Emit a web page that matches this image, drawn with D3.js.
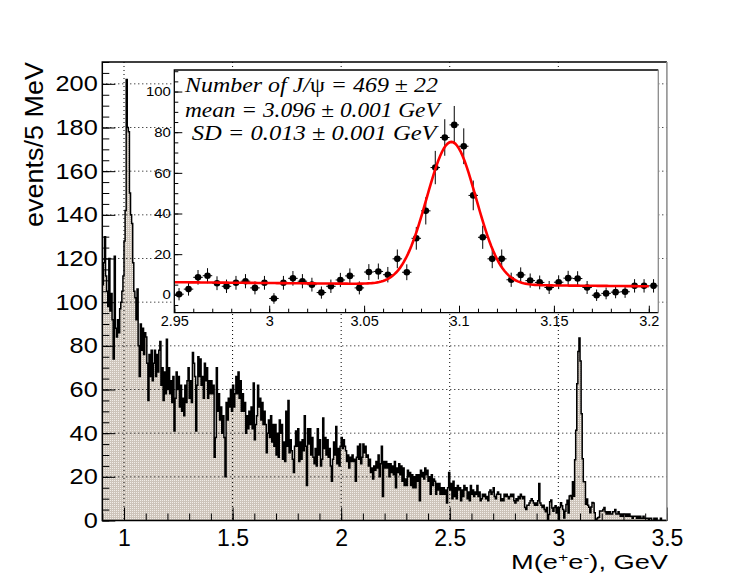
<!DOCTYPE html>
<html>
<head>
<meta charset="utf-8">
<style>
body { margin: 0; background: #fff; }
svg text { font-family: "Liberation Sans", Arial, Helvetica, sans-serif; fill: #000; }
.grid line { stroke: #000; stroke-width: 1; stroke-dasharray: 1,3; }
.fittext { font-family: "Liberation Serif", "Times New Roman", serif; font-style: italic; }
</style>
<script src="https://d3js.org/d3.v7.min.js"></script>
</head>
<body>
<svg id="chart" width="747" height="580"></svg>
<script>
// ---- data ----
var binWidth = 0.005;          // GeV, 5 MeV bins
var massRange = [0.9, 3.5];
var insetRange = [2.95, 3.205];

// main histogram, bins 0.900 .. 2.950
var countsLow = [
  108, 118, 130, 112, 105, 98, 120, 96, 104, 92,
  74, 121, 88, 84, 92, 86, 97, 100, 105, 112,
  128, 142, 202, 180, 178, 150, 140, 136, 118, 105,
  102, 92, 106, 80, 66, 90, 78, 88, 76, 86,
  84, 72, 55, 76, 66, 78, 64, 72, 78, 66,
  76, 68, 78, 82, 62, 70, 55, 68, 58, 83,
  60, 70, 58, 64, 54, 66, 41, 56, 68, 60,
  66, 52, 62, 50, 56, 48, 62, 54, 64, 70,
  56, 64, 54, 77, 72, 66, 41, 62, 75, 66,
  74, 62, 66, 56, 72, 64, 70, 56, 64, 58,
  64, 58, 62, 29, 38, 70, 50, 58, 46, 52,
  40, 48, 38, 20, 54, 46, 56, 52, 60, 50,
  62, 52, 58, 66, 58, 68, 56, 64, 50, 58,
  50, 54, 40, 48, 42, 50, 44, 52, 42, 63,
  37, 44, 48, 62, 52, 56, 46, 54, 44, 50,
  44, 31, 40, 46, 38, 48, 36, 44, 34, 44,
  30, 40, 29, 46, 40, 44, 28, 36, 27, 50,
  34, 55, 31, 37, 32, 28, 22, 34, 41, 34,
  42, 27, 36, 28, 37, 32, 48, 34, 16, 42,
  35, 42, 30, 38, 29, 26, 33, 25, 42, 30,
  37, 25, 28, 47, 33, 38, 30, 37, 29, 33,
  25, 18, 28, 36, 30, 43, 26, 33, 25, 34,
  38, 33, 37, 34, 32, 27, 30, 24, 29, 27,
  30, 27, 28, 18, 29, 34, 28, 35, 26, 29,
  35, 31, 34, 29, 30, 25, 28, 22, 24, 19,
  25, 23, 27, 24, 30, 20, 26, 34, 11, 27,
  24, 27, 24, 26, 20, 26, 22, 25, 21, 27,
  15, 24, 22, 26, 21, 25, 18, 24, 16, 19,
  16, 23, 20, 22, 16, 21, 15, 20, 15, 21,
  18, 21, 9, 23, 20, 22, 19, 24, 21, 23,
  18, 20, 12, 21, 16, 19, 18, 12, 17, 14,
  17, 12, 15, 12, 15, 12, 14, 8, 15, 22,
  14, 17, 10, 18, 11, 15, 10, 16, 14, 15,
  9, 14, 11, 16, 14, 15, 10, 13, 9, 16,
  12, 14, 11, 13, 12, 16, 11, 13, 9, 10,
  12, 11, 12, 10, 11, 9, 13, 14, 12, 13,
  15, 11, 10, 12, 13, 12, 12, 9, 10, 9,
  12, 11, 12, 11, 10, 11, 12, 11, 12, 9,
  8, 10, 9, 11, 10, 12, 11, 10, 11, 6,
  5, 7, 7, 8, 9, 10, 9, 8, 7, 8,
  7, 9, 17, 8, 7, 6, 7, 5, 4, 6
];

// J/psi region, bins 2.950 .. 3.205 (shown in the inset, also part of the main histogram)
var insetCounts = [
  0.3, 2.8, 8.6, 9.4, 5.7, 4.2, 5.9, 6.7, 3.4, 5.9,
  -1.8, 5.9, 8.1, 6.7, 5.0, 1.1, 4.2, 7.3, 9.3, 3.4,
  11.2, 11.5, 9.9, 17.7, 11.1, 27.8, 41.3, 62.6, 77.4, 83.6,
  73.1, 48.9, 28.3, 17.7, 17.7, 7.4, 9.8, 7.0, 6.1, 3.6,
  6.2, 8.2, 8.0, 3.6, -0.2, 0.7, 1.3, 1.5, 4.4, 4.4,
  4.4
];
var insetErrors = [
  3.0, 3.2, 3.6, 3.7, 3.4, 3.3, 3.4, 3.5, 3.2, 3.4,
  2.6, 3.4, 3.6, 3.5, 3.4, 3.0, 3.3, 3.5, 3.7, 3.2,
  3.9, 3.9, 3.8, 4.6, 3.9, 5.6, 6.7, 8.2, 9.0, 9.3,
  8.8, 7.3, 5.7, 4.6, 4.6, 3.5, 3.7, 3.5, 3.4, 3.2,
  3.4, 3.6, 3.6, 3.2, 2.8, 2.9, 3.0, 3.0, 3.3, 3.3,
  3.3
];

// main histogram, bins 3.205 .. 3.500
var countsHigh = [
  5, 6, 4, 3, 4, 3, 4, 3, 3, 4,
  4, 5, 3, 3, 4, 3, 2, 3, 2, 3,
  3, 2, 3, 2, 3, 2, 2, 1, 2, 2,
  2, 1, 2, 1, 2, 1, 1, 2, 1, 1,
  1, 1, 0, 1, 1, 0, 0, 1, 0, 1,
  0, 0, 0, 1, 0, 0, 0, 0, 0
];

// fitted Gaussian + linear background drawn in the inset
var fitMean = 3.096, fitSigma = 0.013, fitPeak = 70.2;
var bkgAt295 = 6.2, bkgSlope = -8.0;
var fitCurveRange = [2.95, 3.2];

var mainXTicks = [1, 1.5, 2, 2.5, 3, 3.5];
var mainYTicks = [0, 20, 40, 60, 80, 100, 120, 140, 160, 180, 200];
var insetXTicks = [2.95, 3, 3.05, 3.1, 3.15, 3.2];
var insetYTicks = [0, 20, 40, 60, 80, 100];

var fitLines = [
  [["Number of J/", 1], ["\u03c8", 0], [" = 469  ", 1], ["\u00b1", 0], [" 22", 1]],
  [["mean = 3.096 ", 1], ["\u00b1", 0], [" 0.001 GeV", 1]],
  [["SD = 0.013 ", 1], ["\u00b1", 0], [" 0.001 GeV", 1]]
];

// ---- drawing ----
var svg = d3.select("#chart");

var frame = {x0: 102.3, x1: 666.9, y0: 62, y1: 520.5};
var inset = {x0: 174.3, x1: 658.3, y0: 70, y1: 312.7};

var x = d3.scaleLinear().domain(massRange).range([frame.x0, frame.x1]);
var y = d3.scaleLinear().domain([0, 210]).range([frame.y1, frame.y0]);
var xi = d3.scaleLinear().domain(insetRange).range([inset.x0, inset.x1]);
var yi = d3.scaleLinear().domain([-8.8, 110.6]).range([inset.y1, inset.y0]);

var counts = countsLow.concat(insetCounts, countsHigh);
var bins = counts.map(function(c, i) { return {lo: massRange[0] + i * binWidth, v: c}; });
bins.push({lo: massRange[0] + counts.length * binWidth, v: counts[counts.length - 1]});

var defs = svg.append("defs");
var pat = defs.append("pattern").attr("id", "hatch")
  .attr("patternUnits", "userSpaceOnUse").attr("width", 2).attr("height", 2);
pat.append("rect").attr("width", 2).attr("height", 2).attr("fill", "#cdc4ba");
pat.append("rect").attr("width", 1).attr("height", 1).attr("fill", "#f2eee9");
defs.append("clipPath").attr("id", "clipMain").append("rect")
  .attr("x", frame.x0).attr("y", frame.y0)
  .attr("width", frame.x1 - frame.x0).attr("height", frame.y1 - frame.y0);

var plot = svg.append("g").attr("clip-path", "url(#clipMain)");

var area = d3.area()
  .x(function(d) { return x(d.lo); })
  .y0(y(0))
  .y1(function(d) { return y(Math.max(0, d.v)); })
  .curve(d3.curveStepAfter);
plot.append("path").datum(bins).attr("d", area).attr("fill", "url(#hatch)");

var line = d3.line()
  .x(function(d) { return x(d.lo); })
  .y(function(d) { return y(Math.max(0, d.v)); })
  .curve(d3.curveStepAfter);
plot.append("path").datum(bins).attr("d", line)
  .attr("fill", "none").attr("stroke", "#000").attr("stroke-width", 1.5);

// grid
var grid = svg.append("g").attr("class", "grid");
grid.selectAll("line.v").data(mainXTicks.filter(function(t) { return t < massRange[1]; }))
  .enter().append("line")
  .attr("x1", function(d) { return x(d); }).attr("x2", function(d) { return x(d); })
  .attr("y1", frame.y0).attr("y2", frame.y1);
grid.selectAll("line.h").data(mainYTicks.filter(function(t) { return t > 0; }))
  .enter().append("line")
  .attr("y1", function(d) { return y(d); }).attr("y2", function(d) { return y(d); })
  .attr("x1", frame.x0).attr("x2", frame.x1);

function minorTicks(a, b, step) {
  var n = Math.round((b - a) / step), out = [];
  for (var i = 0; i <= n; i++) out.push(+(a + i * step).toFixed(4));
  return out;
}

function styleLabels(g, size, stretch) {
  g.attr("font-family", null).attr("font-size", null);
  g.select(".domain").remove();
  g.selectAll("text").style("font-size", size + "px");
  if (stretch) g.selectAll("text").attr("transform", "scale(" + stretch + ",1)");
}

// main axes
svg.append("g").attr("transform", "translate(0," + frame.y1 + ")")
  .call(d3.axisBottom(x).tickValues(minorTicks(0.9, 3.5, 0.1)).tickSize(-7).tickFormat(""))
  .call(function(g) { g.select(".domain").remove(); });
svg.append("g").attr("transform", "translate(0," + frame.y1 + ")")
  .call(d3.axisBottom(x).tickValues(mainXTicks).tickSize(-13).tickPadding(9.5).tickFormat(d3.format("")))
  .call(styleLabels, 23);
svg.append("g").attr("transform", "translate(" + frame.x0 + ",0)")
  .call(d3.axisLeft(y).tickValues(minorTicks(0, 210, 5)).tickSize(-7).tickFormat(""))
  .call(function(g) { g.select(".domain").remove(); });
svg.append("g").attr("transform", "translate(" + frame.x0 + ",0)")
  .call(d3.axisLeft(y).tickValues(mainYTicks).tickSize(-13).tickPadding(4).tickFormat(d3.format("")))
  .call(styleLabels, 22, 1.15);

function frameLines(f, w) {
  var g = svg.append("g").attr("stroke-width", w).attr("fill", "none");
  g.append("path").attr("stroke", "#000")
    .attr("d", "M" + f.x1 + "," + f.y0 + "H" + f.x0 + "V" + f.y1 + "H" + f.x1);
  g.append("path").attr("stroke", "#8a8a8a")
    .attr("d", "M" + f.x1 + "," + f.y0 + "V" + f.y1);
}
frameLines(frame, 1.5);

// ---- inset ----
svg.append("rect").attr("x", inset.x0).attr("y", inset.y0)
  .attr("width", inset.x1 - inset.x0).attr("height", inset.y1 - inset.y0)
  .attr("fill", "#fff");

var pts = insetCounts.map(function(c, i) {
  return {x: insetRange[0] + (i + 0.5) * binWidth, v: c, e: insetErrors[i]};
});
var pg = svg.append("g");
pg.selectAll("line.ey").data(pts).enter().append("line")
  .attr("x1", function(d) { return xi(d.x); }).attr("x2", function(d) { return xi(d.x); })
  .attr("y1", function(d) { return yi(d.v - d.e); }).attr("y2", function(d) { return yi(d.v + d.e); })
  .attr("stroke", "#000").attr("stroke-width", 1);
pg.selectAll("line.ex").data(pts).enter().append("line")
  .attr("x1", function(d) { return xi(d.x - binWidth / 2); }).attr("x2", function(d) { return xi(d.x + binWidth / 2); })
  .attr("y1", function(d) { return yi(d.v); }).attr("y2", function(d) { return yi(d.v); })
  .attr("stroke", "#000").attr("stroke-width", 1);

function fitFunc(m) {
  var g = fitPeak * Math.exp(-0.5 * Math.pow((m - fitMean) / fitSigma, 2));
  return g + bkgAt295 + bkgSlope * (m - 2.95);
}
var curve = d3.range(0, 251).map(function(i) {
  var m = fitCurveRange[0] + i * (fitCurveRange[1] - fitCurveRange[0]) / 250;
  return [m, fitFunc(m)];
});
svg.append("path").datum(curve)
  .attr("d", d3.line().x(function(d) { return xi(d[0]); }).y(function(d) { return yi(d[1]); }))
  .attr("fill", "none").attr("stroke", "#ff0000").attr("stroke-width", 2.6);

pg.selectAll("circle").data(pts).enter().append("circle")
  .attr("cx", function(d) { return xi(d.x); }).attr("cy", function(d) { return yi(d.v); })
  .attr("r", 3.3).attr("fill", "#000");

svg.append("g").attr("transform", "translate(0," + inset.y1 + ")")
  .call(d3.axisBottom(xi).tickValues(minorTicks(2.95, 3.2, 0.01)).tickSize(-4).tickFormat(""))
  .call(function(g) { g.select(".domain").remove(); });
svg.append("g").attr("transform", "translate(0," + inset.y1 + ")")
  .call(d3.axisBottom(xi).tickValues(insetXTicks).tickSize(-7).tickPadding(3.5).tickFormat(d3.format("")))
  .call(styleLabels, 14.5);
svg.append("g").attr("transform", "translate(" + inset.x0 + ",0)")
  .call(d3.axisLeft(yi).tickValues(minorTicks(-5, 110, 5)).tickSize(-4).tickFormat(""))
  .call(function(g) { g.select(".domain").remove(); });
svg.append("g").attr("transform", "translate(" + inset.x0 + ",0)")
  .call(d3.axisLeft(yi).tickValues(insetYTicks).tickSize(-8).tickPadding(3).tickFormat(d3.format("")))
  .call(styleLabels, 13, 1.15);

frameLines(inset, 1.3);

// fit result text
var textPos = [[185, 91.7, 253], [185, 116.7, 255], [191.7, 140, 245]];
fitLines.forEach(function(parts, i) {
  var t = svg.append("text").attr("class", "fittext").style("font-size", "21px");
  parts.forEach(function(p) {
    t.append("tspan").text(p[0]).style("font-style", p[1] ? "italic" : "normal");
  });
  var w = t.node().getComputedTextLength();
  t.attr("transform", "translate(" + textPos[i][0] + "," + textPos[i][1] + ") scale(" + (textPos[i][2] / w) + ",1)");
});

// axis titles
var yt = svg.append("text").attr("text-anchor", "end").style("font-size", "25px").text("events/5 MeV");
var ytw = yt.node().getComputedTextLength();
yt.attr("transform", "translate(43," + frame.y0 + ") rotate(-90) scale(" + (165 / ytw) + ",1)");

var xt = svg.append("text").attr("text-anchor", "end").style("font-size", "20px");
xt.append("tspan").text("M(e");
xt.append("tspan").text("+").attr("baseline-shift", "super").style("font-size", "13px");
xt.append("tspan").text("e");
xt.append("tspan").text("-").attr("baseline-shift", "super").style("font-size", "13px");
xt.append("tspan").text("), GeV");
var xtw = xt.node().getComputedTextLength();
xt.attr("transform", "translate(668,569) scale(" + (157 / xtw) + ",1)");
</script>
</body>
</html>
